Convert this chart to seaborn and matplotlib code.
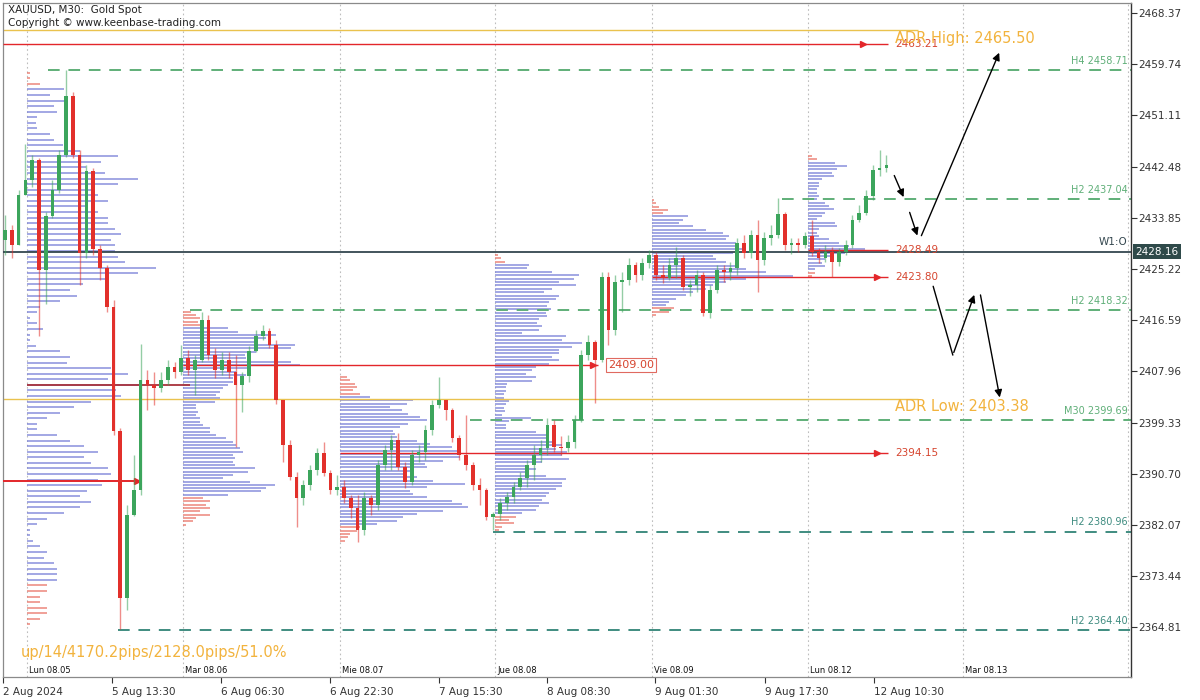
import numpy as np
import matplotlib
matplotlib.use("Agg")
import matplotlib.pyplot as plt
import matplotlib.transforms as mtransforms
import seaborn as sns

# ---- candles (hourly view of the XAUUSD chart, open = previous close) ----
first_open = 2430.1
closes = [
    2431.8, 2429.3, 2437.7, 2440.2, 2443.6, 2425.0, 2434.2, 2438.5, 2444.4, 2454.4,
    2444.4, 2427.9, 2441.7, 2428.6, 2425.4, 2418.8, 2397.9, 2369.8, 2383.8, 2388.0,
    2406.5, 2405.7, 2405.2, 2406.5, 2408.7, 2407.9, 2410.2, 2408.2, 2409.9, 2416.6,
    2410.7, 2408.2, 2409.9, 2407.9, 2405.7, 2407.2, 2411.4, 2413.9, 2414.8, 2412.4,
    2403.1, 2395.6, 2390.2, 2386.6, 2388.8, 2391.3, 2394.2, 2390.8, 2388.0, 2388.5,
    2386.6, 2384.9, 2381.2, 2386.6, 2385.4, 2392.2, 2394.7, 2396.4, 2391.8, 2389.3,
    2393.9, 2394.3, 2398.1, 2402.3, 2403.1, 2401.5, 2396.7, 2393.9, 2392.2, 2388.8,
    2388.0, 2383.4, 2383.9, 2385.8, 2386.8, 2388.5, 2390.0, 2392.2, 2393.9, 2395.0,
    2398.9, 2395.2, 2395.0, 2396.1, 2399.8, 2410.7, 2412.9, 2409.9, 2423.9, 2414.9,
    2423.0, 2423.4, 2425.9, 2424.2, 2426.2, 2427.6, 2424.2, 2423.7, 2425.9, 2427.1,
    2422.2, 2422.5, 2424.2, 2417.8, 2421.7, 2425.0, 2424.7, 2425.4, 2429.6, 2427.9,
    2431.0, 2426.7, 2430.4, 2431.0, 2434.5, 2429.3, 2429.6, 2429.3, 2430.8, 2428.1,
    2427.1, 2428.1, 2426.4, 2428.1, 2429.3, 2433.5, 2434.7, 2437.5, 2441.9, 2442.2,
    2442.8,
]
highs = [
    2434.3, 2432.6, 2438.5, 2446.3, 2444.4, 2443.9, 2434.8, 2440.2, 2445.3, 2458.7,
    2455.1, 2445.3, 2442.8, 2442.2, 2429.3, 2425.9, 2420.0, 2398.4, 2385.4, 2393.9,
    2412.6, 2408.2, 2407.9, 2407.9, 2409.9, 2409.5, 2412.4, 2411.6, 2410.7, 2418.0,
    2417.5, 2411.9, 2411.2, 2411.2, 2410.7, 2407.9, 2412.2, 2414.9, 2415.8, 2415.3,
    2413.2, 2403.1, 2396.4, 2391.0, 2389.7, 2392.2, 2395.0, 2396.1, 2391.3, 2390.5,
    2389.7, 2387.1, 2387.1, 2387.6, 2387.1, 2393.0, 2395.6, 2397.2, 2397.6, 2392.7,
    2394.7, 2395.6, 2398.9, 2403.1, 2407.0, 2403.1, 2401.8, 2397.2, 2400.6, 2392.7,
    2390.0, 2388.3, 2384.3, 2386.6, 2387.6, 2389.3, 2391.0, 2393.0, 2395.6, 2396.4,
    2400.1, 2399.8, 2397.1, 2397.2, 2400.6, 2411.6, 2414.1, 2413.2, 2424.7, 2424.7,
    2424.2, 2424.7, 2427.1, 2426.4, 2427.1, 2428.4, 2428.1, 2425.9, 2427.1, 2428.9,
    2427.6, 2423.4, 2425.0, 2424.7, 2422.5, 2425.9, 2425.9, 2426.4, 2430.4, 2431.0,
    2431.8, 2433.5, 2431.5, 2432.6, 2437.2, 2434.8, 2430.4, 2430.4, 2431.5, 2433.5,
    2428.8, 2429.3, 2428.9, 2428.8, 2430.1, 2434.3, 2436.0, 2438.5, 2442.8, 2445.3,
    2444.4,
]
lows = [
    2427.6, 2427.1, 2429.3, 2437.7, 2439.0, 2413.9, 2419.3, 2433.8, 2438.0, 2444.1,
    2443.9, 2422.5, 2427.1, 2427.6, 2423.4, 2418.0, 2397.2, 2364.5, 2367.7, 2383.5,
    2387.1, 2401.5, 2402.3, 2404.5, 2405.7, 2406.8, 2407.4, 2407.4, 2404.0, 2409.5,
    2409.9, 2406.8, 2407.4, 2406.8, 2395.2, 2401.1, 2406.2, 2411.2, 2413.2, 2411.9,
    2402.5, 2392.7, 2389.7, 2381.7, 2385.4, 2388.0, 2390.5, 2390.3, 2387.3, 2387.1,
    2385.8, 2383.2, 2379.2, 2380.4, 2383.8, 2384.6, 2391.3, 2391.3, 2391.3, 2388.3,
    2388.8, 2392.7, 2393.0, 2397.2, 2401.8, 2399.8, 2396.1, 2393.0, 2391.3, 2388.0,
    2385.4, 2382.9, 2381.2, 2382.9, 2384.6, 2385.8, 2388.0, 2388.5, 2389.7, 2392.7,
    2393.9, 2394.4, 2393.9, 2394.4, 2395.0, 2399.4, 2409.9, 2402.6, 2409.5, 2412.4,
    2414.1, 2418.0, 2422.5, 2423.0, 2423.4, 2425.4, 2423.4, 2422.9, 2423.4, 2423.7,
    2421.7, 2420.7, 2421.3, 2417.3, 2417.0, 2421.2, 2423.0, 2423.4, 2424.2, 2427.1,
    2427.1, 2421.3, 2425.9, 2429.3, 2430.4, 2428.4, 2427.7, 2428.1, 2428.8, 2427.4,
    2426.2, 2426.4, 2423.9, 2425.7, 2427.6, 2428.8, 2433.1, 2434.3, 2436.8, 2440.9,
    2441.6,
]

# ---- session volume profiles ----
day_labels = ["Lun 08.05", "Mar 08.06", "Mie 08.07", "Jue 08.08", "Vie 08.09", "Lun 08.12", "Mar 08.13"]
day_starts = [3.24, 26.25, 49.4, 72.3, 95.4, 118.4, 141.3]

profile_tops = [2458.3, 2418.0, 2407.0, 2427.6, 2436.85, 2444.27]
profile_bottoms = [2365.3, 2382.1, 2379.4, 2381.2, 2417.46, 2424.04]
profile_red_top = [3, 5, 6, 3, 5, 2]
profile_red_bottom = [8, 9, 5, 5, 3, 2]

vols_0805 = [3, 3, 13, 37, 23, 37, 27, 30, 10, 9, 10, 23, 27, 36, 53, 91, 74, 59, 78, 111,
             91, 64, 71, 81, 59, 71, 81, 81, 88, 94, 84, 88, 88, 91, 98, 129, 111, 79, 56, 43,
             50, 33, 13, 10, 3, 10, 16, 3, 3, 9, 33, 43, 40, 84, 101, 81, 113, 89, 94, 64,
             47, 33, 20, 10, 10, 30, 43, 57, 71, 57, 64, 81, 84, 71, 75, 60, 53, 64, 53, 37,
             20, 10, 3, 3, 6, 13, 20, 17, 27, 30, 30, 30, 20, 20, 13, 13, 20, 20, 13, 3]
vols_0806 = [8, 13, 17, 15, 18, 45, 55, 93, 83, 75, 112, 108, 73, 62, 63, 108, 117, 68, 53, 63,
             50, 50, 45, 40, 37, 33, 37, 32, 13, 13, 15, 13, 17, 17, 20, 27, 27, 33, 43, 50,
             53, 57, 60, 50, 52, 50, 52, 72, 65, 50, 40, 67, 92, 83, 78, 45, 20, 27, 23, 27,
             17, 27, 13, 10, 3]
vols_0807 = [7, 10, 15, 17, 13, 20, 30, 73, 67, 50, 62, 68, 80, 87, 68, 60, 53, 55, 57, 77,
             90, 112, 117, 118, 120, 103, 85, 87, 70, 63, 77, 93, 125, 87, 70, 73, 87, 112, 122, 128,
             103, 77, 63, 57, 37, 20, 17, 10, 8, 5]
vols_0808 = [3, 6, 10, 34, 32, 57, 84, 79, 64, 81, 57, 49, 64, 61, 54, 52, 56, 51, 52, 44,
             42, 47, 44, 27, 71, 67, 87, 77, 64, 64, 57, 64, 54, 41, 37, 31, 41, 37, 12, 11,
             11, 9, 9, 14, 11, 9, 10, 7, 36, 14, 11, 11, 41, 54, 51, 57, 67, 61, 72, 67,
             74, 47, 34, 41, 34, 51, 71, 67, 67, 61, 54, 51, 47, 54, 44, 41, 27, 21, 14, 19,
             7, 4]
vols_0809 = [2, 4, 7, 16, 11, 36, 31, 27, 41, 54, 71, 77, 74, 84, 87, 94, 81, 61, 64, 74,
             84, 94, 114, 141, 94, 74, 61, 54, 41, 34, 24, 17, 14, 22, 17, 4]
vols_0812 = [4, 9, 27, 39, 29, 24, 26, 14, 11, 11, 9, 9, 11, 9, 17, 21, 26, 17, 14, 9,
             27, 29, 11, 9, 11, 21, 31, 41, 57, 37, 24, 17, 14, 17, 7, 7, 4]
profile_vols = [vols_0805, vols_0806, vols_0807, vols_0808, vols_0809, vols_0812]

# ---- levels ----
ADR_HIGH = 2465.50
ADR_LOW = 2403.38
W1_OPEN = 2428.16
pivot_names = ["H4 2458.71", "H2 2437.04", "H2 2418.32", "M30 2399.69", "H2 2380.96", "H2 2364.40"]
pivot_prices = [2458.71, 2437.04, 2418.32, 2399.69, 2380.96, 2364.40]
pivot_starts = [6.3, 114.6, 27.3, 68.6, 72.0, 16.7]
pivot_colors = ["#5FAF78", "#5FAF78", "#5FAF78", "#5FAF78", "#3F8C80", "#3F8C80"]

poc_prices = [2463.21, 2428.49, 2423.80, 2394.15]
poc_starts = [-0.3, 118.4, 95.4, 49.4]
poc_arrow = [True, False, True, True]

price_ticks = [2468.37, 2459.74, 2451.11, 2442.48, 2433.85, 2425.22, 2416.59,
               2407.96, 2399.33, 2390.70, 2382.07, 2373.44, 2364.81]
time_labels = ["2 Aug 2024", "5 Aug 13:30", "6 Aug 06:30", "6 Aug 22:30", "7 Aug 15:30",
               "8 Aug 08:30", "9 Aug 01:30", "9 Aug 17:30", "12 Aug 10:30"]
time_pos = [-0.29, 15.78, 31.86, 47.94, 64.01, 79.94, 95.87, 112.09, 128.17]

# ---- styling ----
sns.set_theme(style="white")
plt.rcParams["font.family"] = ["DejaVu Sans"]

UP = "#3CA55C"
DOWN = "#E2302B"
RED_LINE = "#E3262A"
PROFILE_BLUE = "#7C84D8"
PROFILE_RED = "#EA7A6E"
ORANGE = "#F2B33D"
X_MIN, X_MAX = -0.3, 166.08
Y_MIN, Y_MAX = 2356.44, 2470.05

fig = plt.figure(figsize=(12, 7), dpi=100)
ax = fig.add_axes([3 / 1200, 1 - 677 / 700, 1128 / 1200, 674 / 700])
ax.set_xlim(X_MIN, X_MAX)
ax.set_ylim(Y_MIN, Y_MAX)
px = (X_MAX - X_MIN) / 1128.0  # one pixel in bar units

# day separators
for d in day_starts + [165.6]:
    ax.axvline(d, color="#BDBDBD", ls=(0, (1.5, 2.5)), lw=0.8, zorder=0)
for d, lab in zip(day_starts, day_labels):
    ax.text(d + 0.3, 2357.6, lab, fontsize=6, color="#111", va="center", ha="left")

# volume profiles
for x0, top, bot, nt, nb, vols in zip(day_starts, profile_tops, profile_bottoms,
                                      profile_red_top, profile_red_bottom, profile_vols):
    vols = np.asarray(vols, dtype=float)
    levels = np.linspace(top, bot, len(vols))
    cols = [PROFILE_RED if (k < nt or k >= len(vols) - nb) else PROFILE_BLUE
            for k in range(len(vols))]
    ax.hlines(levels, x0, x0 + vols * px, colors=cols, lw=1.1, alpha=0.9, zorder=1)

# ADR lines and texts
for lvl in (ADR_HIGH, ADR_LOW):
    ax.hlines(lvl, X_MIN, 134.7, color="#EAC24E", lw=1.0, zorder=2)
ax.text(131.3, 2464.0, "ADR High: 2465.50", color=ORANGE, fontsize=10.5, va="center", zorder=6)
ax.text(131.3, 2402.0, "ADR Low: 2403.38", color=ORANGE, fontsize=10.5, va="center", zorder=6)

# pivot dashed levels
for name, p, x0, c in zip(pivot_names, pivot_prices, pivot_starts, pivot_colors):
    ax.hlines(p, x0, X_MAX, color=c, lw=1.4, linestyles=[(0, (6, 4.5))], zorder=2)
    ax.annotate(name, (165.6, p), xytext=(0, 3), textcoords="offset points",
                ha="right", va="bottom", fontsize=7, color=c)

# weekly open
ax.axhline(W1_OPEN, color="#34474F", lw=1.3, zorder=3)
ax.annotate("W1:O", (165.6, W1_OPEN), xytext=(0, 3), textcoords="offset points",
            ha="right", va="bottom", fontsize=7.5, color="#34474F")
blend = mtransforms.blended_transform_factory(ax.transAxes, ax.transData)
ax.text(1.004, W1_OPEN, "2428.16", transform=blend, ha="left", va="center", fontsize=7.5,
        color="white", bbox=dict(boxstyle="square,pad=0.25", fc="#2F4A4A", ec="none"), zorder=7)

# POC lines with arrows and price tags
for p, x0, arr in zip(poc_prices, poc_starts, poc_arrow):
    ax.hlines(p, x0, 130.2, color=RED_LINE, lw=1.0, zorder=3)
    if arr:
        ax.plot([126.6 if p > 2460 else 128.6], [p], marker=">", ms=5, color=RED_LINE, zorder=4)
    ax.text(131.3, p, f"{p:.2f}", color="#D6452F", fontsize=7.5, va="center", zorder=5)

# session POC 2409.00 with boxed tag
ax.hlines(2409.0, 26.25, 87.5, color=RED_LINE, lw=1.0, zorder=3)
ax.plot([86.7], [2409.0], marker=">", ms=5, color=RED_LINE, zorder=4)
ax.text(88.9, 2409.0, "2409.00", color="#D6452F", fontsize=8, va="center", zorder=6,
        bbox=dict(boxstyle="square,pad=0.2", fc="white", ec="#E06A60", lw=0.8))

# Monday profile POC lines
ax.hlines(2389.5, X_MIN, 19.9, color=RED_LINE, lw=1.4, zorder=3)
ax.plot([19.4], [2389.5], marker=">", ms=5, color=RED_LINE, zorder=4)
ax.hlines(2405.7, 3.24, 27.3, color="#A8323C", lw=1.3, zorder=3)

# candles
o = np.concatenate([[first_open], np.asarray(closes[:-1])])
c = np.asarray(closes)
h = np.maximum.reduce([np.asarray(highs), o, c])
l = np.minimum.reduce([np.asarray(lows), o, c])
xs = np.arange(len(c))
colors = np.where(c >= o, UP, DOWN)
ax.vlines(xs, l, h, colors=colors, lw=1.0, alpha=0.55, zorder=4)
body = np.where(np.abs(c - o) < 0.15, 0.15, c - o)
ax.bar(xs, body, bottom=o, width=0.55, color=colors, edgecolor="none", zorder=5)

# forecast arrows
arrow_kw = dict(arrowstyle="-|>", color="black", lw=1.0, mutation_scale=11)
ax.annotate("", xy=(132.7, 2436.9), xytext=(131.0, 2441.4), arrowprops=arrow_kw, zorder=8)
ax.annotate("", xy=(134.7, 2430.4), xytext=(133.3, 2435.2), arrowprops=arrow_kw, zorder=8)
ax.annotate("", xy=(146.8, 2462.1), xytext=(135.0, 2430.4), arrowprops=arrow_kw, zorder=8)
ax.plot([136.9, 139.8], [2422.3, 2410.7], color="black", lw=1.0, zorder=8)
ax.annotate("", xy=(143.1, 2421.3), xytext=(139.8, 2410.7), arrowprops=arrow_kw, zorder=8)
ax.annotate("", xy=(146.8, 2403.1), xytext=(143.8, 2421.3), arrowprops=arrow_kw, zorder=8)

# axes frame and ticks
for side in ["left", "top", "bottom"]:
    ax.spines[side].set_color("#8A8A8A")
    ax.spines[side].set_linewidth(0.9)
ax.spines["right"].set_color("#333333")
ax.spines["right"].set_linewidth(1.0)
ax.yaxis.tick_right()
ax.set_yticks(price_ticks)
ax.set_yticklabels([f"{p:.2f}" for p in price_ticks])
ax.tick_params(axis="y", right=True, left=False, length=4, width=0.8, direction="out",
               labelsize=7.5, labelcolor="#333", color="#333", pad=1)
ax.set_xticks(time_pos)
ax.set_xticklabels(time_labels, ha="left")
ax.tick_params(axis="x", bottom=True, length=4, width=0.8, direction="out",
               labelsize=7.5, labelcolor="#333", color="#333", pad=3)
ax.grid(False)

fig.text(8 / 1200, 1 - 10 / 700, "XAUUSD, M30:  Gold Spot", fontsize=7.5, color="#222", va="center")
fig.text(8 / 1200, 1 - 23 / 700, "Copyright \u00a9 www.keenbase-trading.com", fontsize=7.5,
         color="#222", va="center")
fig.text(21 / 1200, 1 - 652 / 700, "up/14/4170.2pips/2128.0pips/51.0%", fontsize=10.5,
         color=ORANGE, va="center")

fig.savefig("out.png", dpi=100, facecolor="white")
